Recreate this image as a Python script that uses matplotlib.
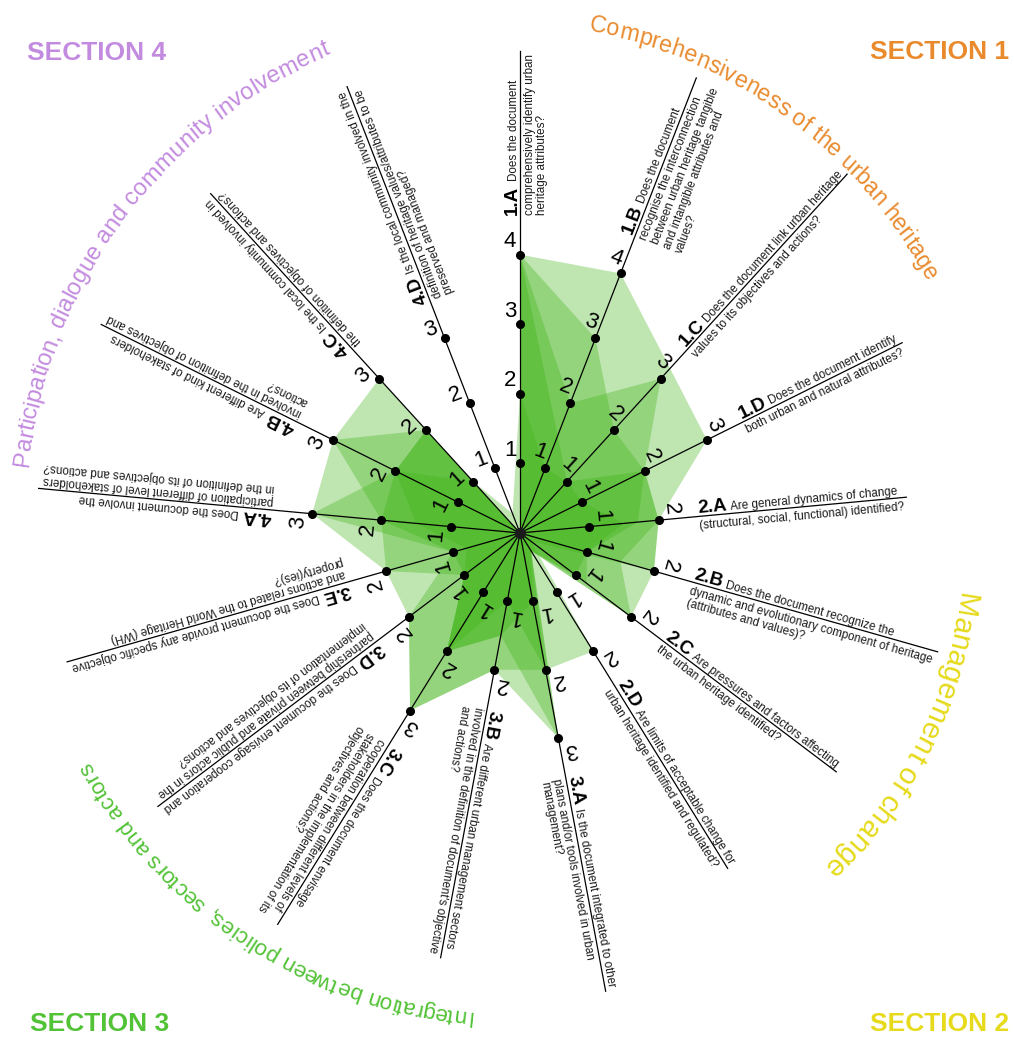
import numpy as np
import matplotlib.pyplot as plt
from matplotlib.font_manager import FontProperties

# criteria of the checklist, clockwise from the top
codes = ['1.A', '1.B', '1.C', '1.D', '2.A', '2.B', '2.C', '2.D',
         '3.A', '3.B', '3.C', '3.D', '3.E', '4.A', '4.B', '4.C', '4.D']
questions = [
    ['Does the document', 'comprehensively identify urban', 'heritage attributes?'],
    ['Does the document', 'recognise the interconnection', 'between urban heritage tangible',
     'and intangible attributes and', 'values?'],
    ['Does the document link urban heritage', 'values to its objectives and actions?'],
    ['Does the document identify', 'both urban and natural attributes?'],
    ['Are general dynamics of change', '(structural, social, functional) identified?'],
    ['Does the document recognize the', 'dynamic and evolutionary component of heritage',
     '(attributes and values)?'],
    ['Are pressures and factors affecting', 'the urban heritage identified?'],
    ['Are limits of acceptable change for', 'urban heritage identified and regulated?'],
    ['Is the document integrated to other', 'plans and/or tools involved in urban', 'management?'],
    ['Are different urban management sectors', "involved in the definition of document's objective",
     'and actions?'],
    ['Does the document envisage', 'cooperation between different levels of',
     'stakeholders in the implementation of its', 'objectives and actions?'],
    ['Does the document envisage cooperation and', 'partnership between private and public actors in the',
     'implementation of its objectives and actions?'],
    ['Does the document provide any specific objective', 'and actions related to the World Heritage (WH)',
     'property(ies)?'],
    ['Does the document involve the', 'participation of different level of stakeholders',
     'in the definition of its objectives and actions?'],
    ['Are different kind of stakeholders', 'involved in the definition of objectives and', 'actions?'],
    ['Is the local community involved in', 'the definition of objectives and actions?'],
    ['Is the local community involved in the', 'definition of heritage values/attributes to be',
     'preserved and managed?'],
]
max_score = [4, 4, 3, 3, 2, 2, 2, 2, 3, 2, 3, 2, 2, 3, 3, 3, 3]

# scores of the documents (one polygon each)
doc1 = [4, 4, 3.2, 3, 2, 2, 0.2, 2, 2, 1, 2, 1, 2, 2, 3, 3, 0]
doc2 = [4, 3, 2, 2, 2, 2, 2, 0.3, 3, 2, 3, 2, 2, 3, 3, 2, 0]
doc3 = [4, 2, 3, 2, 2, 1.5, 2, 0.3, 2, 2, 3, 2, 1, 3, 2, 2, 0]
doc4 = [4, 1.5, 1, 2, 1.7, 1, 1.2, 0.3, 3, 1.5, 2, 1, 1, 2, 2, 2, 0]
doc5 = [2, 1, 1, 1, 1.5, 1, 1, 0.3, 1, 1.5, 2, 1, 0.8, 1.5, 2, 1, 0.3]
docs = [doc1, doc2, doc3, doc4, doc5]

section_titles = ['Comprehensiveness of the urban heritage', 'Management of change',
                  'Integration between policies, sectors and actors',
                  'Participation, dialogue and community involvement']
section_labels = ['SECTION 1', 'SECTION 2', 'SECTION 3', 'SECTION 4']
section_colors = ['#e98a2d', '#e6da1b', '#52c236', '#c38bdf']

W, H = 1014, 1039
cx, cy = 520, 533      # chart centre, pixels from top-left
s = 69.6               # pixels per score point
px = 1 / s

fig = plt.figure(figsize=(W / 100, H / 100), dpi=100)
ax = fig.add_axes([0, 0, 1, 1])
ax.set_xlim(-cx / s, (W - cx) / s)
ax.set_ylim(-(H - cy) / s, cy / s)
ax.axis('off')

rend = fig.canvas.get_renderer()
fp_code = FontProperties(family='Liberation Sans', weight='bold', size=13.5)
fp_q = FontProperties(family='Liberation Sans', size=8.4)


def tw(txt, fp):
    return rend.get_text_width_height_descent(txt, fp, ismath=False)[0]


n = len(codes)
ang = np.deg2rad(90 - np.arange(n) * 360 / n)

for d in docs:
    v = np.array(d)
    ax.fill(v * np.cos(ang), v * np.sin(ang), color=(0.24, 0.70, 0.08), alpha=0.33, lw=0, zorder=1)

for i in range(n):
    th = ang[i]
    deg = np.rad2deg(th)
    u = np.array([np.cos(th), np.sin(th)])
    p = np.array([-np.sin(th), np.cos(th)])
    r0 = max_score[i] + 40 * px
    cw = tw(codes[i], fp_code)
    ax.text(*(r0 * u + 3 * px * p), codes[i], fontproperties=fp_code, rotation=deg,
            rotation_mode='anchor', ha='left', va='baseline', zorder=4)
    q0 = r0 + (cw + 4) * px
    ax.text(*(q0 * u + 3 * px * p), questions[i][0], fontproperties=fp_q, color='#1a1a1a',
            rotation=deg, rotation_mode='anchor', ha='left', va='baseline', zorder=4)
    ends = [q0 + tw(questions[i][0], fp_q) * px]
    for j, line in enumerate(questions[i][1:]):
        ax.text(*(r0 * u - (3.5 + 12.5 * j) * px * p), line, fontproperties=fp_q, color='#1a1a1a',
                rotation=deg, rotation_mode='anchor', ha='left', va='top', zorder=4)
        ends.append(r0 + tw(line, fp_q) * px)
    r_end = max(ends) + 3 * px
    ax.plot([0, r_end * u[0]], [0, r_end * u[1]], color='black', lw=0.9, zorder=2)
    for k in range(1, max_score[i] + 1):
        ax.plot(k * u[0], k * u[1], 'o', color='black', ms=5.5, zorder=3)
        lp = (k + 13 * px) * u + 10 * px * p
        ax.text(*lp, str(k), fontsize=16, family='Liberation Sans', rotation=deg - 90,
                rotation_mode='anchor', ha='center', va='center', zorder=4)

ax.plot(0, 0, 'o', color='#1a1a1a', ms=7, zorder=3)


def arc_text(txt, a0, a1, r0, r1, color, ref=15):
    fp = FontProperties(family='Liberation Sans', size=ref)
    adv = np.array([tw('x' + c + 'x', fp) - tw('xx', fp) for c in txt])
    cen = np.cumsum(adv) - adv / 2 - adv[0] / 2
    span_m = cen[-1]
    rm = (r0 + r1) / 2
    span = np.deg2rad(a0 - a1) * rm
    fs = ref * span / span_m
    for c, l in zip(txt, cen):
        t = l / span_m
        a = np.deg2rad(a0 + (a1 - a0) * t)
        rr = (r0 + (r1 - r0) * t) * px
        ax.text(rr * np.cos(a), rr * np.sin(a), c, fontsize=fs, color=color, family='Liberation Sans',
                rotation=np.rad2deg(a) - 90, rotation_mode='anchor', ha='center', va='baseline')


arc_text(section_titles[0], 81.3, 32.5, 507, 478, section_colors[0])
arc_text(section_titles[1], -9.2, -46.8, 442, 450, section_colors[1])
arc_text(section_titles[2], -96.1, -151.4, 480, 487, section_colors[2])
arc_text(section_titles[3], 171.4, 111.9, 496, 515, section_colors[3])

label_xy = [(940, 52), (940, 1024), (100, 1024), (97, 53)]
for lab, (x, y), c in zip(section_labels, label_xy, section_colors):
    fig.text(x / W, 1 - y / H, lab, color=c, fontsize=19, weight='bold', family='Liberation Sans',
             ha='center', va='center')

fig.savefig('out.png', dpi=100)
